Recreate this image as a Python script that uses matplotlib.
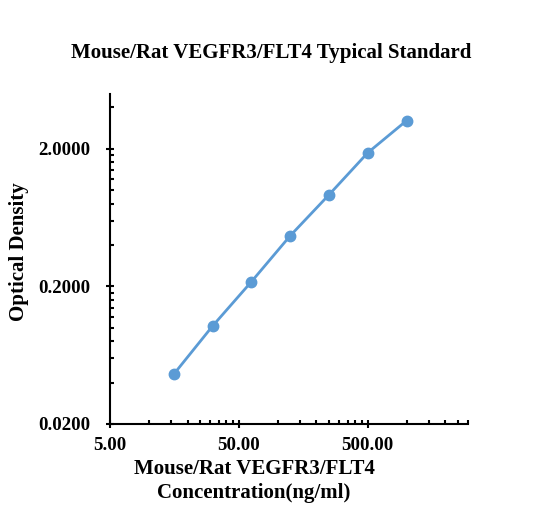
import matplotlib
matplotlib.use("Agg")
import matplotlib.pyplot as plt
from matplotlib.ticker import FixedLocator, NullFormatter

concentration = [15.625, 31.25, 62.5, 125, 250, 500, 1000]
optical_density = [0.046, 0.103, 0.216, 0.466, 0.925, 1.87, 3.2]
x_ticks = [5, 50, 500]
x_tick_labels = ["5.00", "50.00", "500.00"]
y_ticks = [0.02, 0.2, 2.0]
y_tick_labels = ["0.0200", "0.2000", "2.0000"]
title = "Mouse/Rat VEGFR3/FLT4 Typical Standard"
xlabel = "Mouse/Rat VEGFR3/FLT4\nConcentration(ng/ml)"
ylabel = "Optical Density"

plt.rcParams['font.family'] = ['Liberation Serif', 'DejaVu Serif']

fig = plt.figure(figsize=(5.51, 5.29), dpi=100)
ax = fig.add_axes([110/551, 1-424/529, 358/551, 330/529])

ax.plot(concentration, optical_density, color="#5B9BD5", lw=2.0,
        marker="o", markersize=7.5, markerfacecolor="#5B9BD5",
        markeredgecolor="#5B9BD5", solid_capstyle="round")

ax.set_xscale("log")
ax.set_yscale("log")
ax.set_xlim(5, 3000)
ax.set_ylim(0.02, 5.0)

ax.xaxis.set_major_locator(FixedLocator(x_ticks))
ax.set_xticklabels(x_tick_labels)
xminor = [b * k for b in (5, 50, 500) for k in range(2, 10) if b * k <= 3000]
ax.xaxis.set_minor_locator(FixedLocator(xminor))
ax.xaxis.set_minor_formatter(NullFormatter())

ax.yaxis.set_major_locator(FixedLocator(y_ticks))
ax.set_yticklabels(y_tick_labels)
yminor = [b * k for b in (0.02, 0.2, 2.0) for k in range(2, 10) if b * k <= 5.0001]
ax.yaxis.set_minor_locator(FixedLocator(yminor))
ax.yaxis.set_minor_formatter(NullFormatter())

for s in ("top", "right"):
    ax.spines[s].set_visible(False)
for s in ("left", "bottom"):
    ax.spines[s].set_linewidth(1.5)

ax.tick_params(axis="both", which="major", direction="inout", length=6, width=1.5,
               labelsize=13.6)
ax.tick_params(axis="x", which="major", pad=6.5)
ax.tick_params(axis="y", which="major", pad=11)
ax.tick_params(axis="both", which="minor", direction="in", length=3, width=1.5)
for lbl in ax.get_xticklabels() + ax.get_yticklabels():
    lbl.set_fontweight("bold")

fig.text(271/551, 1-53/529, title, ha="center", va="center",
         fontsize=15, fontweight="bold")
fig.text(254/551, 1-481/529, xlabel, ha="center", va="center",
         fontsize=15, fontweight="bold", linespacing=1.3)
fig.text(19/551, 1-252/529, ylabel, ha="center", va="center",
         rotation=90, fontsize=15, fontweight="bold")

fig.savefig("out.png", dpi=100, facecolor="white")
